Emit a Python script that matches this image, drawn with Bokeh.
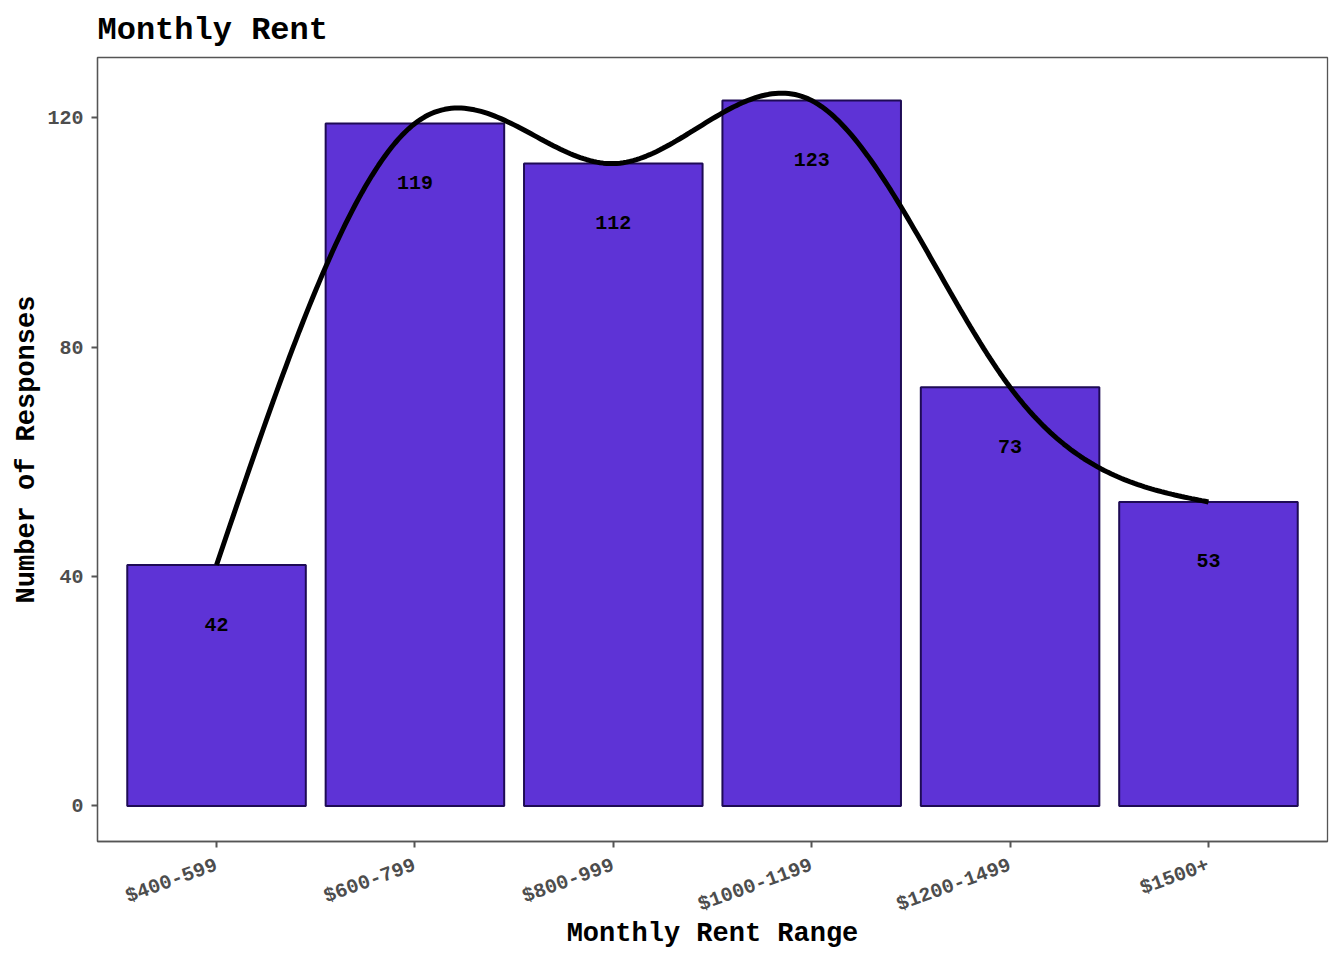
import numpy as np
from bokeh.plotting import figure
from bokeh.models import Range1d, FixedTicker, ColumnDataSource
from bokeh.core.properties import value
from bokeh.embed import file_html
from bokeh.resources import INLINE

categories = ["$400-599", "$600-799", "$800-999", "$1000-1199", "$1200-1499", "$1500+"]
counts = [42, 119, 112, 123, 73, 53]
y_ticks = [0, 40, 80, 120]

FONT = "Liberation Mono"
BAR_FILL = "#5E33D6"
BAR_LINE = "#1E0B55"
GREY = "#4D4D4D"

xpos = np.arange(1, len(categories) + 1, dtype=float)
vals = np.array(counts, dtype=float)

# natural cubic spline through the bar tops
n = len(vals)
A = np.zeros((n, n))
rhs = np.zeros(n)
A[0, 0] = A[-1, -1] = 1.0
for i in range(1, n - 1):
    A[i, i - 1], A[i, i], A[i, i + 1] = 1.0, 4.0, 1.0
    rhs[i] = 6.0 * (vals[i + 1] - 2 * vals[i] + vals[i - 1])
M = np.linalg.solve(A, rhs)
sx, sy = [], []
for i in range(n - 1):
    t = np.linspace(0, 1, 60, endpoint=(i == n - 2))
    s = (M[i] * (1 - t) ** 3 / 6 + M[i + 1] * t ** 3 / 6
         + (vals[i] - M[i] / 6) * (1 - t) + (vals[i + 1] - M[i + 1] / 6) * t)
    sx.extend(xpos[i] + t)
    sy.extend(s)

p = figure(width=1336, height=952, output_backend="svg", toolbar_location=None,
           x_range=Range1d(0.4, 6.6), y_range=Range1d(-6.2, 130.5),
           min_border_left=97, min_border_right=9, min_border_top=57, min_border_bottom=111,
           title="Monthly Rent")

p.title.text_font = FONT
p.title.text_font_style = "bold"
p.title.text_font_size = "32px"
p.title.text_color = "black"
p.title.offset = 0
p.title.standoff = 18

src = ColumnDataSource(dict(x=xpos, top=vals, label=[str(c) for c in counts]))
p.vbar(x="x", top="top", bottom=0, width=0.9, source=src,
       fill_color=BAR_FILL, line_color=BAR_LINE, line_width=2)
p.line(sx, sy, line_color="black", line_width=5)
p.text(x="x", y="top", text="label", source=src, y_offset=59,
       text_font=value(FONT), text_font_style="bold", text_font_size="20px",
       text_align="center", text_baseline="middle", text_color="black")

p.xgrid.visible = False
p.ygrid.visible = False
p.background_fill_color = "white"
p.border_fill_color = "white"
p.outline_line_color = "#555555"
p.outline_line_width = 1.3


def style(ax):
    ax.axis_line_color = "#555555"
    ax.axis_line_width = 1.3
    ax.major_tick_line_color = "#555555"
    ax.major_tick_line_width = 2
    ax.major_tick_out = 6
    ax.major_tick_in = 0
    ax.minor_tick_line_color = None
    ax.major_label_text_font = FONT
    ax.major_label_text_font_style = "bold"
    ax.major_label_text_font_size = "20px"
    ax.major_label_text_color = GREY
    ax.axis_label_text_font = FONT
    ax.axis_label_text_font_style = "bold"
    ax.axis_label_text_font_size = "27px"
    ax.axis_label_text_color = "black"


xa = p.xaxis[0]
style(xa)
tick_vals = [float(v) for v in xpos]
xa.ticker = FixedTicker(ticks=tick_vals)
xa.major_label_overrides = {t: c for t, c in zip(tick_vals, categories)}
xa.major_label_orientation = float(np.deg2rad(20))
xa.major_label_standoff = 17
xa.axis_label = "Monthly Rent Range"
xa.axis_label_standoff = -11

ya = p.yaxis[0]
style(ya)
ya.ticker = FixedTicker(ticks=y_ticks)
ya.major_label_standoff = 8
ya.axis_label = "Number of Responses"
ya.axis_label_standoff = 2

open("out.html", "w").write(file_html(p, INLINE))
